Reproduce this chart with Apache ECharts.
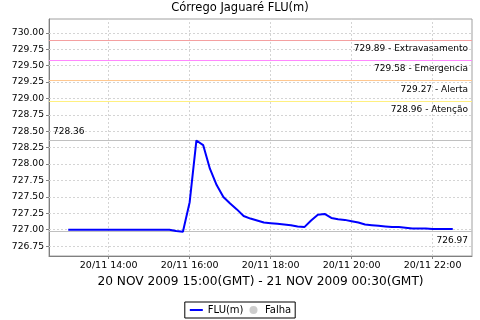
<!DOCTYPE html>
<html><head><meta charset="utf-8">
<script src="https://cdn.jsdelivr.net/npm/echarts@6/dist/echarts.min.js"></script>
<style>html,body{margin:0;padding:0;background:#fff}#c{width:480px;height:320px}</style>
</head><body><div id="c"></div>
<script>
const chartTitle = 'Córrego Jaguaré FLU(m)';
const xAxisName = '20 NOV 2009 15:00(GMT) - 21 NOV 2009 00:30(GMT)';
const seriesName = 'FLU(m)';
const failName = 'Falha';
const dayLabel = '20/11';

const times = [
  '13:00','13:10','13:20','13:30','13:40','13:50',
  '14:00','14:10','14:20','14:30','14:40','14:50',
  '15:00','15:10','15:20','15:30','15:40','15:50',
  '16:00','16:10','16:20','16:30','16:40','16:50',
  '17:00','17:10','17:20','17:30','17:40','17:50',
  '18:00','18:10','18:20','18:30','18:40','18:50',
  '19:00','19:10','19:20','19:30','19:40','19:50',
  '20:00','20:10','20:20','20:30','20:40','20:50',
  '21:00','21:10','21:20','21:30','21:40','21:50',
  '22:00','22:10','22:20','22:30'
];
const levels = [
  727.00,727.00,727.00,727.00,727.00,727.00,
  727.00,727.00,727.00,727.00,727.00,727.00,
  727.00,727.00,727.00,727.00,726.98,726.97,
  727.42,728.36,728.29,727.93,727.68,727.50,
  727.40,727.31,727.21,727.17,727.14,727.11,
  727.10,727.09,727.08,727.07,727.05,727.04,
  727.14,727.23,727.24,727.18,727.16,727.15,
  727.13,727.11,727.08,727.07,727.06,727.05,
  727.04,727.04,727.03,727.02,727.02,727.02,
  727.01,727.01,727.01,727.01
];
const thresholdValues = [729.89, 729.58, 729.27, 728.96];
const thresholdNames = ['Extravasamento', 'Emergencia', 'Alerta', 'Atenção'];
const thresholdColors = ['#f4a0a0', '#ff88ff', '#ffc890', '#fff080'];
const yTicks = [726.75, 727.00, 727.25, 727.50, 727.75, 728.00, 728.25, 728.50, 728.75, 729.00, 729.25, 729.50, 729.75, 730.00];
const xTicks = ['14:00', '16:00', '18:00', '20:00', '22:00'];

function toHours(s) { const p = s.split(':').map(Number); return p[0] + p[1] / 60; }
function hhmm(v) { const h = Math.floor(v + 1e-6); const m = Math.round((v - h) * 60); return (h < 10 ? '0' : '') + h + ':' + (m < 10 ? '0' : '') + m; }

const FONT = 'DejaVu Sans';
const data = times.map((t, i) => [toHours(t), levels[i]]);
const xTickVals = xTicks.map(toHours);

const gridStyle = { color: '#d4d4d4', type: [2, 2], width: 1 };
const gridMarks = xTickVals.map(v => ({ xAxis: v, lineStyle: gridStyle, label: { show: false } }))
  .concat(yTicks.map(v => ({ yAxis: v, lineStyle: gridStyle, label: { show: false } })));

const markData = thresholdValues.map((v, i) => ({
  yAxis: v,
  lineStyle: { color: thresholdColors[i], width: 1, type: 'solid' },
  label: { show: true, position: 'insideEndBottom', formatter: v.toFixed(2) + ' - ' + thresholdNames[i],
           color: '#000', fontFamily: FONT, fontSize: 9, distance: [4, 4] }
}));
markData.push({ type: 'max', lineStyle: { color: '#c0c0c0', width: 1, type: 'solid' },
  label: { show: true, position: 'insideStartTop', formatter: p => p.value.toFixed(2), color: '#000', fontFamily: FONT, fontSize: 9, distance: [4, 4] } });
markData.push({ type: 'min', lineStyle: { color: '#c0c0c0', width: 1, type: 'solid' },
  label: { show: true, position: 'insideEndBottom', formatter: p => p.value.toFixed(2), color: '#000', fontFamily: FONT, fontSize: 9, distance: [4, 4] } });

const chart = echarts.init(document.getElementById('c'), null, { renderer: 'canvas' });
chart.setOption({
  animation: false,
  backgroundColor: '#fff',
  title: { text: chartTitle, left: 'center', top: -3, textStyle: { fontFamily: FONT, fontSize: 11.5, fontWeight: 'normal', color: '#000' } },
  grid: { left: 49, right: 8, top: 19, bottom: 64, show: true, borderColor: '#a0a0a0', borderWidth: 1 },
  legend: {
    bottom: 2, left: 'center', orient: 'horizontal',
    borderColor: '#000', borderWidth: 1, padding: [3, 4], itemGap: 6, itemWidth: 13, itemHeight: 8,
    textStyle: { fontFamily: FONT, fontSize: 10, color: '#000' },
    data: [{ name: seriesName, itemStyle: { opacity: 0 } }, { name: failName }]
  },
  xAxis: {
    type: 'value', min: 12.525, max: 22.975,
    name: xAxisName, nameLocation: 'middle', nameGap: 19,
    nameTextStyle: { fontFamily: FONT, fontSize: 12.2, color: '#000' },
    axisLine: { lineStyle: { color: '#808080' } },
    axisTick: { show: true, length: 3, customValues: xTickVals, lineStyle: { color: '#808080' } },
    axisLabel: { customValues: xTickVals, formatter: v => dayLabel + ' ' + hhmm(v), fontFamily: FONT, fontSize: 9.5, color: '#000', margin: 5 },
    splitLine: { show: false }
  },
  yAxis: {
    type: 'value', min: 726.60, max: 730.21,
    axisLine: { show: true, lineStyle: { color: '#808080' } },
    axisTick: { show: true, length: 3, customValues: yTicks, lineStyle: { color: '#808080' } },
    axisLabel: { customValues: yTicks, formatter: v => v.toFixed(2), fontFamily: FONT, fontSize: 9.2, color: '#000', margin: 5 },
    splitLine: { show: false }
  },
  series: [
    {
      name: 'grid', type: 'line', data: [], silent: true,
      markLine: { silent: true, symbol: ['none', 'none'], animation: false, data: gridMarks },
      z: 1
    },
    {
      name: seriesName, type: 'line', data: data, symbol: 'none', showSymbol: false,
      lineStyle: { color: '#0000ff', width: 2 }, itemStyle: { color: '#0000ff' },
      markLine: { silent: true, symbol: ['none', 'none'], animation: false, data: markData },
      z: 5
    },
    { name: failName, type: 'scatter', data: [], symbol: 'circle', itemStyle: { color: '#c0c0c0' } }
  ]
});
</script></body></html>
